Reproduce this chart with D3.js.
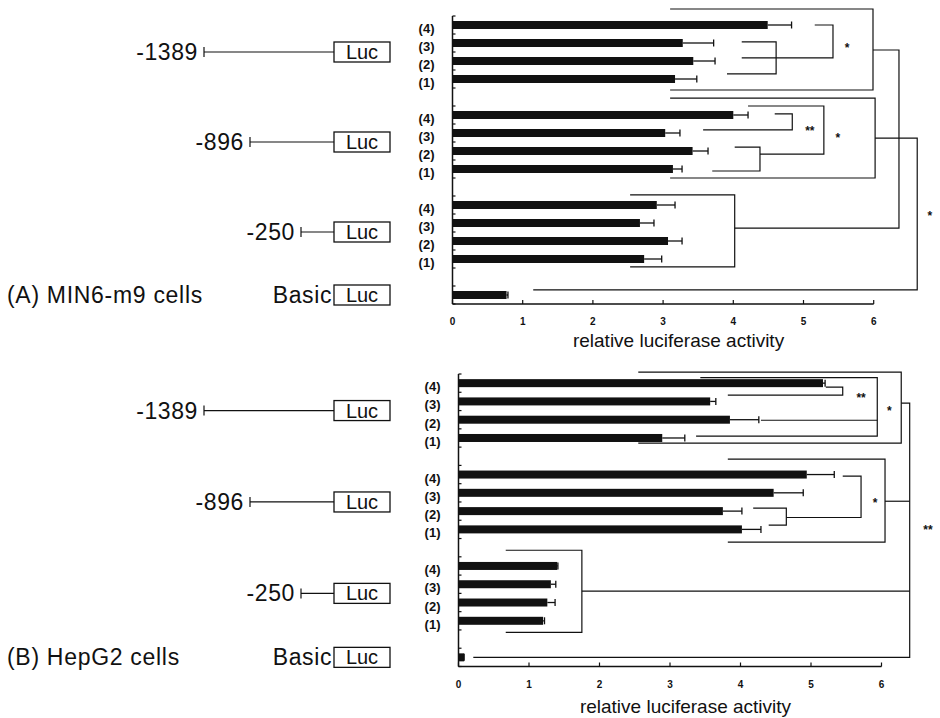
<!DOCTYPE html>
<html>
<head>
<meta charset="utf-8">
<script src="https://cdn.jsdelivr.net/npm/d3@7"></script>
<style>
  body { margin: 0; background: #fff; }
  text { font-family: "Liberation Sans", Arial, sans-serif; fill: #111; }
</style>
</head>
<body>
<div id="chart"></div>
<script>
// constructs (rows of each group) and conditions
const groups = ["-1389", "-896", "-250", "Basic"];
const promoterStart = [-1389, -896, -250, 0];
const conditions = ["(4)", "(3)", "(2)", "(1)"];
const xTicks = [0, 1, 2, 3, 4, 5, 6];

// (A) MIN6-m9 cells, order: -1389 (4..1), -896 (4..1), -250 (4..1), Basic
const min6Means  = [4.49, 3.28, 3.43, 3.17, 4.00, 3.03, 3.42, 3.14, 2.91, 2.67, 3.07, 2.73, 0.77];
const min6Errors = [0.34, 0.44, 0.31, 0.31, 0.21, 0.21, 0.22, 0.13, 0.26, 0.20, 0.20, 0.25, 0.02];

// (B) HepG2 cells
const hepMeans  = [5.17, 3.57, 3.85, 2.89, 4.94, 4.47, 3.75, 4.02, 1.40, 1.31, 1.26, 1.20, 0.08];
const hepErrors = [0.03, 0.08, 0.41, 0.32, 0.39, 0.42, 0.27, 0.27, 0.01, 0.07, 0.11, 0.02, 0.00];

// significance brackets: points as [activity, row slot]
const min6Brackets = [
  [[3.10, -0.89], [5.99, -0.89], [5.99, 3.61], [3.10, 3.61]],
  [[5.16, 0], [5.42, 0], [5.42, 1.83], [4.12, 1.83]],
  [[4.12, 0.94], [4.61, 0.94], [4.61, 2.72], [3.91, 2.72]],
  [[3.10, 4.06], [6.02, 4.06], [6.02, 8.5], [3.10, 8.5]],
  [[4.21, 4.5], [5.29, 4.5], [5.29, 7.17], [4.38, 7.17]],
  [[4.59, 4.94], [4.84, 4.94], [4.84, 5.83], [3.57, 5.83]],
  [[4.02, 6.78], [4.38, 6.78], [4.38, 8.11], [3.70, 8.11]],
  [[2.53, 9.44], [4.02, 9.44], [4.02, 13.44], [2.53, 13.44]],
  [[5.99, 1.39], [6.36, 1.39], [6.36, 11.28], [4.02, 11.28]],
  [[6.02, 6.28], [6.62, 6.28], [6.62, 14.72], [1.15, 14.72]]
];
const min6Stars = [["*", 5.62, 1.11], ["**", 5.09, 5.72], ["*", 5.49, 6.11], ["*", 6.80, 10.44]];

const hepBrackets = [
  [[2.55, -0.60], [6.28, -0.60], [6.28, 3.28], [2.55, 3.28]],
  [[3.43, -0.30], [5.94, -0.30], [5.94, 2.90], [3.37, 2.90]],
  [[4.29, 2.03], [5.94, 2.03]],
  [[5.21, 0.22], [5.45, 0.22], [5.45, 0.66], [3.82, 0.66]],
  [[3.82, 4.16], [6.05, 4.16], [6.05, 8.70], [3.82, 8.70]],
  [[5.45, 5.09], [5.71, 5.09], [5.71, 7.35], [4.65, 7.35]],
  [[4.18, 6.84], [4.65, 6.84], [4.65, 7.77], [4.40, 7.77]],
  [[0.67, 9.14], [1.75, 9.14], [1.75, 13.63], [0.67, 13.63]],
  [[6.28, 1.09], [6.40, 1.09], [6.40, 15], [0.21, 15]],
  [[6.05, 6.46], [6.40, 6.46]],
  [[1.75, 11.38], [6.40, 11.38]]
];
const hepStars = [["**", 5.71, 0.66], ["*", 6.11, 1.37], ["*", 5.91, 6.40], ["**", 6.66, 7.88]];

const width = 940, height = 718;
const svg = d3.select("#chart").append("svg")
  .attr("width", width)
  .attr("height", height);

// schematic promoter map, bp -> px
const bp = d3.scaleLinear()
  .domain([-1389, -896, -250, 0])
  .range([204, 250, 301, 334]);

const panels = [
  { title: "(A) MIN6-m9 cells", means: min6Means, errors: min6Errors, brackets: min6Brackets, stars: min6Stars,
    xRange: [452.5, 873.7], yRange: [16, 304], labelY: 347 },
  { title: "(B) HepG2 cells", means: hepMeans, errors: hepErrors, brackets: hepBrackets, stars: hepStars,
    xRange: [458.5, 881.5], yRange: [374, 666.5], labelY: 713 }
];

// slot of each row: 5 slots per group (4 bars + a gap)
const rows = [];
groups.forEach((g, gi) => {
  if (g === "Basic") {
    rows.push({ group: g, cond: "", slot: gi * 5 });
  } else {
    conditions.forEach((c, ci) => rows.push({ group: g, cond: c, slot: gi * 5 + ci }));
  }
});

panels.forEach(p => {
  const x = d3.scaleLinear().domain([0, 6]).range(p.xRange);
  const y = d3.scaleLinear().domain([-0.5, 15.5]).range(p.yRange);
  const g = svg.append("g");
  const barH = 8;

  // constructs on the left
  groups.forEach((name, gi) => {
    const cy = name === "Basic" ? y(15) : y(gi * 5 + 1.5);
    const start = bp(promoterStart[gi]);
    const boxL = bp(0), boxW = 56, boxH = 20;
    if (name !== "Basic") {
      g.append("line").attr("x1", start).attr("x2", boxL).attr("y1", cy).attr("y2", cy)
        .attr("stroke", "#111").attr("stroke-width", 1.2);
      g.append("line").attr("x1", start).attr("x2", start).attr("y1", cy - 5).attr("y2", cy + 5)
        .attr("stroke", "#111").attr("stroke-width", 1.2);
    }
    g.append("rect").attr("x", boxL).attr("y", cy - boxH / 2).attr("width", boxW).attr("height", boxH)
      .attr("fill", "none").attr("stroke", "#111").attr("stroke-width", 1.3);
    g.append("text").attr("x", boxL + boxW / 2).attr("y", cy + 7)
      .attr("text-anchor", "middle").style("font-size", "20px").text("Luc");
    g.append("text")
      .attr("x", name === "Basic" ? boxL - 2 : start - 6)
      .attr("y", cy + 8)
      .attr("text-anchor", "end").style("font-size", "23px").style("letter-spacing", "0.6px").text(name);
    if (name === "Basic") {
      g.append("text").attr("x", 7).attr("y", cy + 8).style("font-size", "23px")
        .style("letter-spacing", "0.7px").text(p.title);
    }
  });

  // axes
  g.append("line").attr("x1", x(0)).attr("x2", x(0)).attr("y1", y(-0.5)).attr("y2", y(15.5))
    .attr("stroke", "#111").attr("stroke-width", 1.5);
  g.append("line").attr("x1", x(0)).attr("x2", x(6)).attr("y1", y(15.5)).attr("y2", y(15.5))
    .attr("stroke", "#111").attr("stroke-width", 1.5);
  g.selectAll(".ytick").data(d3.range(-0.5, 16, 1)).enter().append("line")
    .attr("x1", x(0)).attr("x2", x(0) + 3).attr("y1", d => y(d)).attr("y2", d => y(d))
    .attr("stroke", "#111").attr("stroke-width", 1.2);
  g.selectAll(".xtick").data(xTicks).enter().append("line")
    .attr("x1", d => x(d)).attr("x2", d => x(d)).attr("y1", y(15.5)).attr("y2", y(15.5) - 4)
    .attr("stroke", "#111").attr("stroke-width", 1.2);
  g.selectAll(".xlab").data(xTicks).enter().append("text")
    .attr("x", d => x(d)).attr("y", y(15.5) + 21)
    .attr("text-anchor", "middle").style("font-size", "10px").style("font-weight", "bold")
    .text(d => d);
  g.append("text").attr("x", x(3.22)).attr("y", p.labelY)
    .attr("text-anchor", "middle").style("font-size", "19px").text("relative luciferase activity");

  // row labels
  g.selectAll(".rlab").data(rows.filter(r => r.cond)).enter().append("text")
    .attr("x", x(0) - 18).attr("y", d => y(d.slot) + 8)
    .attr("text-anchor", "end").style("font-size", "13px").style("font-weight", "bold")
    .text(d => d.cond);

  // bars
  g.selectAll(".bar").data(rows).enter().append("rect")
    .attr("x", x(0)).attr("y", d => y(d.slot) - barH / 2)
    .attr("width", (d, i) => x(p.means[i]) - x(0)).attr("height", barH)
    .attr("fill", "#111");

  // error bars
  rows.forEach((r, i) => {
    const x1 = x(p.means[i]), x2 = x(p.means[i] + p.errors[i]), cy = y(r.slot);
    g.append("line").attr("x1", x1).attr("x2", x2).attr("y1", cy).attr("y2", cy)
      .attr("stroke", "#111").attr("stroke-width", 1.3);
    g.append("line").attr("x1", x2).attr("x2", x2).attr("y1", cy - 3.5).attr("y2", cy + 3.5)
      .attr("stroke", "#111").attr("stroke-width", 1.3);
  });

  // brackets
  const line = d3.line().x(d => x(d[0])).y(d => y(d[1]));
  g.selectAll(".br").data(p.brackets).enter().append("path")
    .attr("d", line).attr("fill", "none").attr("stroke", "#111").attr("stroke-width", 1.2);
  g.selectAll(".star").data(p.stars).enter().append("text")
    .attr("x", d => x(d[1])).attr("y", d => y(d[2]) + 7)
    .attr("text-anchor", "middle").style("font-size", "12px").style("font-weight", "bold")
    .text(d => d[0]);
});
</script>
</body>
</html>
